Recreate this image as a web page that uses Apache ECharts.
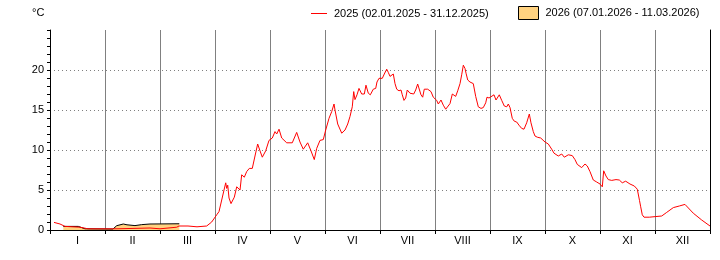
<!DOCTYPE html>
<html>
<head>
<meta charset="utf-8">
<script src="https://cdn.jsdelivr.net/npm/echarts@6/dist/echarts.min.js"></script>
<style>html,body{margin:0;padding:0;background:#fff;}#c{width:720px;height:260px;}</style>
</head>
<body>
<div id="c"></div>
<script>
const monthLabels = ['I','II','III','IV','V','VI','VII','VIII','IX','X','XI','XII'];
const yTicks = [0,5,10,15,20];
const name2025 = '2025 (02.01.2025 - 31.12.2025)';
const name2026 = '2026 (07.01.2026 - 11.03.2026)';
// x = position in months from 1 January (0..12)
const pos2025 = [0.073,0.182,0.273,0.545,0.691,1.218,1.818,2.0,2.304,2.345,2.509,2.545,2.673,2.691,2.849,2.940,3.031,3.073,3.122,3.164,3.195,3.213,3.231,3.255,3.291,3.351,3.395,3.424,3.455,3.485,3.533,3.576,3.624,3.678,3.727,3.776,3.818,3.860,3.922,3.982,4.042,4.091,4.122,4.164,4.213,4.304,4.405,4.485,4.545,4.605,4.685,4.745,4.805,4.849,
4.909,4.969,5.013,5.073,5.122,5.164,5.182,5.231,5.304,5.364,5.413,5.455,5.496,5.522,5.545,5.582,5.618,5.667,5.715,5.745,5.787,5.824,5.878,5.922,5.945,5.982,6.042,6.078,6.122,6.151,6.182,6.213,6.242,6.273,6.304,6.345,6.382,6.405,6.436,6.467,6.496,6.545,6.613,6.649,6.685,6.715,6.745,6.776,6.805,
6.867,6.927,6.969,7.031,7.060,7.109,7.151,7.195,7.231,7.273,7.315,7.351,7.376,7.413,7.455,7.485,7.515,7.545,7.564,7.595,7.636,7.696,7.740,7.787,7.836,7.878,7.922,7.945,7.982,8.018,8.073,8.109,8.140,8.169,8.213,8.260,8.304,8.333,8.364,8.405,8.442,8.485,8.527,8.576,8.618,8.667,8.715,8.745,8.787,8.818,
8.860,8.922,8.951,9.0,9.060,9.122,9.164,9.242,9.304,9.351,9.424,9.496,9.545,9.587,9.667,9.727,9.769,9.818,9.878,9.940,10.0,10.042,10.067,10.109,10.151,10.213,10.291,10.351,10.405,10.467,10.545,10.624,10.678,10.718,10.740,10.769,10.8,10.896,11.0,11.122,11.213,11.333,11.442,11.545,11.696,11.849,12.0];
const val2025 = [0.95,0.75,0.45,0.35,0.15,0.15,0.25,0.15,0.35,0.5,0.5,0.4,0.4,0.5,0.5,1.0,1.9,2.3,3.75,5.0,5.9,5.2,5.6,4.0,3.3,4.1,5.4,5.5,5.0,6.9,6.6,7.3,7.7,7.7,9.25,10.75,9.9,9.1,9.9,11.2,11.5,12.3,12.0,12.6,11.5,10.9,10.9,12.2,11.0,10.1,10.9,9.9,8.8,10.2,
11.2,11.3,12.5,13.96,14.8,15.75,15.0,13.25,12.1,12.5,13.25,14.2,15.4,17.3,16.3,16.9,17.7,17.0,17.0,18.1,17.1,16.9,17.6,17.7,18.5,18.96,18.96,19.5,20.1,19.7,19.2,18.96,19.5,18.3,17.6,17.4,17.5,16.9,16.2,16.5,17.5,17.1,17.0,17.5,18.25,18.0,16.9,16.6,17.6,
17.6,17.3,16.6,16.2,15.75,16.25,15.6,15.1,15.0,15.8,17.0,17.2,16.7,17.4,18.3,19.4,20.6,20.2,19.6,18.75,18.5,18.3,16.7,15.4,15.2,15.3,15.9,16.6,16.5,16.7,16.9,16.25,16.25,16.9,16.2,15.5,15.4,15.75,15.3,13.96,13.6,13.5,13.1,12.7,12.6,13.4,14.5,13.4,12.3,11.75,
11.6,11.5,11.6,11.0,10.75,10.1,9.6,9.25,9.5,9.1,9.4,9.3,8.8,8.2,7.8,8.25,8.0,7.3,6.25,6.0,5.75,5.4,7.4,6.75,6.3,6.2,6.3,6.25,5.9,6.1,5.75,5.5,5.1,3.7,2.9,1.9,1.6,1.6,1.67,1.75,2.2,2.8,3.0,3.2,2.1,1.25,0.5];
const pos2026 = [0.242,0.515,0.636,1.145,1.213,1.333,1.4,1.545,1.667,1.818,2.351];
const val2026 = [0.45,0.45,0.15,0.12,0.54,0.75,0.65,0.55,0.67,0.75,0.78];

const FONT = 'Liberation Sans, Arial, sans-serif';
const GRAY = '#808080';
const zip = (a, b) => a.map((x, i) => [x, b[i]]);

const chart = echarts.init(document.getElementById('c'), null, {renderer: 'canvas'});
chart.setOption({
  animation: false,
  backgroundColor: '#fff',
  textStyle: {fontFamily: FONT},
  grid: {left: 50, right: 10, top: 30, bottom: 30, containLabel: false},
  graphic: [{type: 'text', left: 32, top: 7, style: {text: '°C', font: '11px ' + FONT, fill: '#000'}}],
  legend: [
    {left: 311, top: 8, padding: 0, itemWidth: 16, itemHeight: 1,
     textStyle: {fontSize: 11, color: '#000', fontFamily: FONT, padding: [0,0,0,2]},
     data: [{name: name2025, icon: 'rect', itemStyle: {color: '#FF0000', borderWidth: 0}}]},
    {left: 518, top: 6, padding: 0, itemWidth: 20, itemHeight: 13,
     textStyle: {fontSize: 11, color: '#000', fontFamily: FONT, padding: [0,0,0,2]},
     data: [{name: name2026, icon: 'rect', itemStyle: {color: '#FFD280', borderColor: '#000', borderWidth: 1}}]}
  ],
  xAxis: [
    {type: 'value', min: 0, max: 12, interval: 1,
     axisLine: {show: true, onZero: false, lineStyle: {color: '#000', width: 1}},
     axisTick: {show: true, length: 4, lineStyle: {color: '#000'}},
     axisLabel: {show: false},
     splitLine: {show: true, lineStyle: {color: ['transparent', GRAY, GRAY, GRAY, GRAY, GRAY, GRAY, GRAY, GRAY, GRAY, GRAY, GRAY, 'transparent'], width: 1}}},
    {type: 'category', data: monthLabels, position: 'bottom', boundaryGap: true,
     axisLine: {show: false}, axisTick: {show: false}, splitLine: {show: false},
     axisLabel: {show: true, margin: 5, fontSize: 11, color: '#000', fontFamily: FONT}}
  ],
  yAxis: [
    {type: 'value', min: 0, max: 25, interval: 5,
     axisLine: {show: true, onZero: false, lineStyle: {color: '#000'}},
     axisTick: {show: true, length: 3, lineStyle: {color: '#000'}},
     minorTick: {show: true, splitNumber: 5, length: 3, lineStyle: {color: '#000'}},
     axisLabel: {margin: 6, fontSize: 11, color: '#000', fontFamily: FONT,
                 formatter: v => (yTicks.indexOf(v) >= 0 ? String(v) : '')},
     splitLine: {show: true, lineStyle: {color: ['transparent', GRAY, GRAY, GRAY, GRAY, 'transparent'], type: [1, 3], width: 1}}},
    {type: 'value', min: 0, max: 25, position: 'right',
     axisLine: {show: true, onZero: false, lineStyle: {color: '#000'}},
     axisTick: {show: false}, axisLabel: {show: false}, splitLine: {show: false}}
  ],
  series: [
    {name: name2026, type: 'line', xAxisIndex: 0, yAxisIndex: 0, symbol: 'none', data: zip(pos2026, val2026),
     lineStyle: {color: '#000', width: 1}, itemStyle: {color: '#FFD280'},
     areaStyle: {color: '#FFD280', opacity: 1}, z: 2},
    {name: name2025, type: 'line', xAxisIndex: 0, yAxisIndex: 0, symbol: 'none', data: zip(pos2025, val2025),
     lineStyle: {color: '#FF0000', width: 1}, itemStyle: {color: '#FF0000'}, z: 3}
  ]
});
</script>
</body>
</html>
